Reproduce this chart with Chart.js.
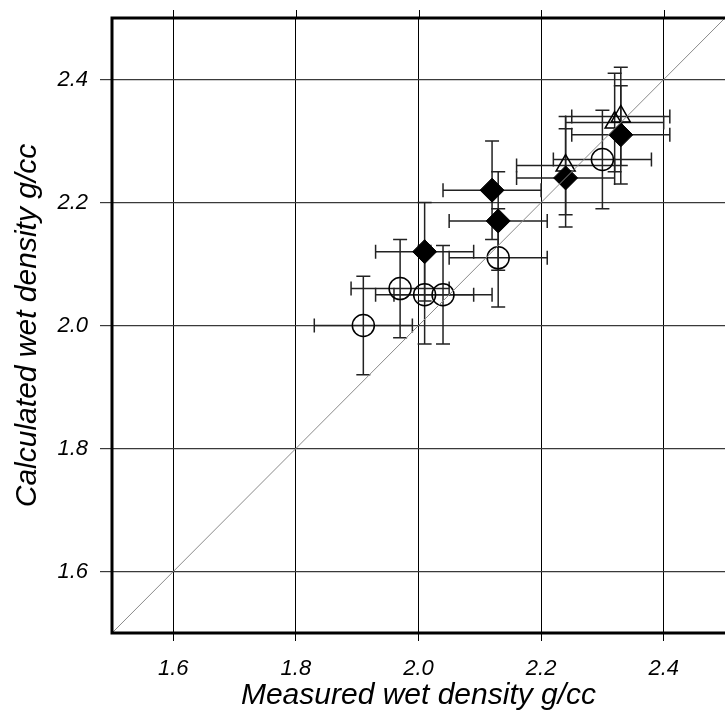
<!DOCTYPE html>
<html>
<head>
<meta charset="utf-8">
<script src="https://cdn.jsdelivr.net/npm/chart.js@4/dist/chart.umd.min.js"></script>
<style>
  body { margin: 0; background: #fff; }
  #chart { display: block; }
</style>
</head>
<body>
<canvas id="chart" width="725" height="723"></canvas>
<script>
// Data
const circleX = [1.91, 1.97, 2.01, 2.04, 2.13, 2.30];
const circleY = [2.00, 2.06, 2.05, 2.05, 2.11, 2.27];
const circleXErr = [0.08, 0.08, 0.08, 0.08, 0.08, 0.08];
const circleYErr = [0.08, 0.08, 0.08, 0.08, 0.08, 0.08];

const diamondX = [2.01, 2.12, 2.13, 2.24, 2.33];
const diamondY = [2.12, 2.22, 2.17, 2.24, 2.31];
const diamondXErr = [0.08, 0.08, 0.08, 0.08, 0.08];
const diamondYErr = [0.08, 0.08, 0.08, 0.08, 0.08];

const triangleX = [2.24, 2.32, 2.33];
const triangleY = [2.26, 2.33, 2.34];
const triangleXErr = [0.08, 0.08, 0.08];
const triangleYErr = [0.08, 0.08, 0.08];

const tickValues = [1.6, 1.8, 2.0, 2.2, 2.4];
const axisMin = 1.5;
const axisMax = 2.5;

const FONT = "'Liberation Sans', Arial, Helvetica, sans-serif";

function points(xs, ys, xe, ye) {
    return xs.map((x, i) => ({ x: x, y: ys[i], xErr: xe[i], yErr: ye[i] }));
}

// chart.js reserves room for the edge labels, we don't want that
function noPadding(s) {
    s.paddingLeft = 0;
    s.paddingRight = 0;
    s.paddingTop = 0;
    s.paddingBottom = 0;
}

// error bars go under the markers
const errorBars = {
    id: 'errorBars',
    beforeDatasetsDraw(chart) {
        const ctx = chart.ctx;
        const xs = chart.scales.x, ys = chart.scales.y;
        const cap = 7;
        ctx.save();
        ctx.strokeStyle = '#222';
        ctx.lineWidth = 1.5;
        chart.data.datasets.forEach(ds => {
            if (!ds.errors) return;
            ds.data.forEach(p => {
                const px = xs.getPixelForValue(p.x);
                const py = ys.getPixelForValue(p.y);
                const x0 = xs.getPixelForValue(p.x - p.xErr);
                const x1 = xs.getPixelForValue(p.x + p.xErr);
                const y0 = ys.getPixelForValue(p.y - p.yErr);
                const y1 = ys.getPixelForValue(p.y + p.yErr);
                ctx.beginPath();
                ctx.moveTo(x0, py); ctx.lineTo(x1, py);
                ctx.moveTo(x0, py - cap); ctx.lineTo(x0, py + cap);
                ctx.moveTo(x1, py - cap); ctx.lineTo(x1, py + cap);
                ctx.moveTo(px, y0); ctx.lineTo(px, y1);
                ctx.moveTo(px - cap, y0); ctx.lineTo(px + cap, y0);
                ctx.moveTo(px - cap, y1); ctx.lineTo(px + cap, y1);
                ctx.stroke();
            });
        });
        ctx.restore();
    }
};

// thick frame on left, top, bottom + small ticks above the top edge
const frame = {
    id: 'frame',
    afterDraw(chart) {
        const ctx = chart.ctx;
        const a = chart.chartArea;
        ctx.save();
        ctx.strokeStyle = '#000';
        ctx.lineWidth = 1;
        ctx.beginPath();
        tickValues.forEach(v => {
            const x = Math.round(chart.scales.x.getPixelForValue(v)) + 0.5;
            ctx.moveTo(x, a.top - 8);
            ctx.lineTo(x, a.top);
        });
        ctx.stroke();
        ctx.lineWidth = 3;
        ctx.beginPath();
        ctx.moveTo(a.right + 2, a.top);
        ctx.lineTo(a.left, a.top);
        ctx.lineTo(a.left, a.bottom);
        ctx.lineTo(a.right + 2, a.bottom);
        ctx.stroke();
        ctx.restore();
    }
};

const tickFont = { family: FONT, size: 22, style: 'italic' };
const titleFont = { family: FONT, size: 30, style: 'italic', lineHeight: 1 };

new Chart(document.getElementById('chart'), {
    type: 'scatter',
    data: {
        datasets: [
            {
                label: 'one-to-one',
                type: 'line',
                data: [{ x: axisMin, y: axisMin }, { x: axisMax, y: axisMax }],
                borderColor: '#8a8a8a',
                borderWidth: 1,
                pointRadius: 0,
                fill: false
            },
            {
                label: 'circles',
                data: points(circleX, circleY, circleXErr, circleYErr),
                errors: true,
                pointStyle: 'circle',
                pointRadius: 11,
                pointBorderWidth: 1.5,
                borderColor: '#000',
                backgroundColor: 'rgba(0,0,0,0)'
            },
            {
                label: 'diamonds',
                data: points(diamondX, diamondY, diamondXErr, diamondYErr),
                errors: true,
                pointStyle: 'rectRot',
                pointRadius: 12,
                pointBorderWidth: 1,
                borderColor: '#000',
                backgroundColor: '#000'
            },
            {
                label: 'triangles',
                data: points(triangleX, triangleY, triangleXErr, triangleYErr),
                errors: true,
                pointStyle: 'triangle',
                pointRadius: 11,
                pointBorderWidth: 1.5,
                borderColor: '#000',
                backgroundColor: 'rgba(0,0,0,0)'
            }
        ]
    },
    options: {
        responsive: false,
        animation: false,
        devicePixelRatio: 1,
        layout: { autoPadding: false, padding: { top: 18, right: 0, left: 0, bottom: 0 } },
        plugins: {
            legend: { display: false },
            tooltip: { enabled: false }
        },
        scales: {
            x: {
                type: 'linear',
                min: axisMin,
                max: axisMax,
                afterBuildTicks: s => { s.ticks = tickValues.map(v => ({ value: v })); },
                afterFit: s => { s.height = 90; noPadding(s); },
                border: { display: false },
                grid: { color: '#000', lineWidth: 1, tickLength: 8 },
                ticks: {
                    font: tickFont,
                    color: '#000',
                    padding: 15,
                    maxRotation: 0,
                    callback: v => Number(v).toFixed(1)
                },
                title: {
                    display: true,
                    text: 'Measured wet density g/cc',
                    font: titleFont,
                    color: '#000',
                    padding: { top: 0, bottom: 12 }
                }
            },
            y: {
                type: 'linear',
                min: axisMin,
                max: axisMax,
                afterBuildTicks: s => { s.ticks = tickValues.map(v => ({ value: v })); },
                afterFit: s => { s.width = 112; noPadding(s); },
                border: { display: false },
                grid: { color: '#3a3a3a', lineWidth: 1.2, tickLength: 12 },
                ticks: {
                    font: tickFont,
                    color: '#000',
                    padding: 12,
                    callback: v => Number(v).toFixed(1)
                },
                title: {
                    display: true,
                    text: 'Calculated wet density g/cc',
                    font: titleFont,
                    color: '#000',
                    padding: { top: 13, bottom: 0 }
                }
            }
        }
    },
    plugins: [errorBars, frame]
});
</script>
</body>
</html>
